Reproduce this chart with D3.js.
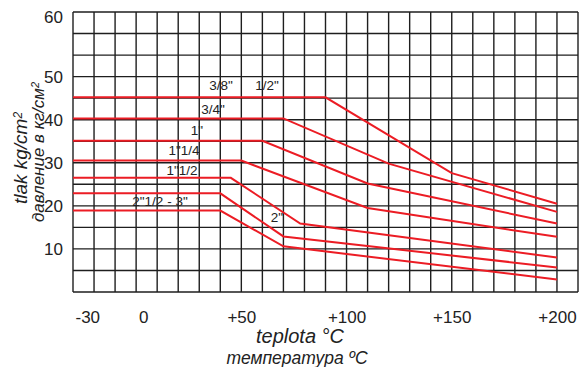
<!DOCTYPE html>
<html>
<head>
<meta charset="utf-8">
<script src="https://cdn.jsdelivr.net/npm/d3@7"></script>
<style>
  body { margin: 0; background: #fff; }
  svg { display: block; font-family: "Liberation Sans", Arial, sans-serif; }
</style>
</head>
<body>
<div id="chart"></div>
<script>
// tick labels
var xTicks = [-30, 0, 50, 100, 150, 200];
var yTicks = [10, 20, 30, 40, 50, 60];

// valve sizes (curve labels)
var sizes = ["3/8\"", "1/2\"", "3/4\"", "1\"", "1\"1/4", "1\"1/2", "2\"", "2\"1/2 - 3\""];

// temperature / pressure breakpoints of each curve, top to bottom
var tempA = [-30, 90, 150, 200], presA = [45.2, 45.2, 27.6, 20.5];
var tempB = [-30, 70, 120, 200], presB = [40.3, 40.3, 29.8, 18.6];
var tempC = [-30, 60, 110, 200], presC = [35.1, 35.1, 25.2, 15.9];
var tempD = [-30, 50, 110, 200], presD = [30.5, 30.5, 19.5, 12.8];
var tempE = [-30, 45, 78, 200],  presE = [26.5, 26.5, 15.9, 8.0];
var tempF = [-30, 40, 70, 200],  presF = [22.9, 22.9, 12.9, 5.7];
var tempG = [-30, 40, 70, 200],  presG = [18.9, 18.9, 10.6, 2.9];

var curves = [
  [tempA, presA], [tempB, presB], [tempC, presC], [tempD, presD],
  [tempE, presE], [tempF, presF], [tempG, presG]
];

// set the dimensions and margins of the graph
var margin = {top: 12, right: 5, bottom: 75, left: 73},
    width = 583 - margin.left - margin.right,
    height = 367 - margin.top - margin.bottom;

var root = d3.select("#chart")
  .append("svg")
    .attr("width", 583)
    .attr("height", 367);
var svg = root.append("g")
    .attr("transform", "translate(" + margin.left + "," + margin.top + ")");

var x = d3.scaleLinear().domain([-30, 210]).range([0, width]);
var y = d3.scaleLinear().domain([0, 65]).range([height, 0]);

// grid
svg.append("g").selectAll("line")
  .data(d3.range(-30, 211, 10))
  .enter().append("line")
    .attr("x1", function(d) { return x(d); })
    .attr("x2", function(d) { return x(d); })
    .attr("y1", 0)
    .attr("y2", height)
    .attr("stroke", "#1e1e1e")
    .attr("stroke-width", 1.4);

svg.append("g").selectAll("line")
  .data(d3.range(0, 66, 5))
  .enter().append("line")
    .attr("x1", 0)
    .attr("x2", width)
    .attr("y1", function(d) { return y(d); })
    .attr("y2", function(d) { return y(d); })
    .attr("stroke", "#1e1e1e")
    .attr("stroke-width", 1.4);

// X axis labels
var xAxis = svg.append("g")
  .attr("transform", "translate(0," + height + ")")
  .call(d3.axisBottom(x).tickValues(xTicks).tickSize(0).tickPadding(19)
    .tickFormat(function(d) { return d > 0 ? "+" + d : "" + d; }));
xAxis.select(".domain").remove();
xAxis.selectAll("text")
  .attr("font-size", 17)
  .attr("fill", "#222")
  .attr("font-family", "\"Liberation Sans\", Arial, sans-serif")
  .attr("text-anchor", function(d) { return d === -30 ? "start" : "middle"; })
  .attr("dx", function(d) { return d === -30 ? 2 : (d === 0 ? 7 : 0); });

// Y axis labels (the 60 sits at the top edge, as in the original sheet)
var yAxis = svg.append("g")
  .call(d3.axisLeft(y).tickValues(yTicks).tickSize(0).tickPadding(10));
yAxis.select(".domain").remove();
yAxis.selectAll("text")
  .attr("font-size", 17)
  .attr("fill", "#222")
  .attr("font-family", "\"Liberation Sans\", Arial, sans-serif")
  .attr("y", function(d) { return d === 60 ? y(65) - y(60) + 5 : 0; });

// curves
var line = d3.line()
  .x(function(d) { return x(d[0]); })
  .y(function(d) { return y(d[1]); });

svg.append("g").selectAll("path")
  .data(curves)
  .enter().append("path")
    .attr("d", function(c) { return line(c[0].map(function(t, i) { return [t, c[1][i]]; })); })
    .attr("fill", "none")
    .attr("stroke", "#ec1c24")
    .attr("stroke-width", 2);

// curve labels
var labelPos = [[221, 90], [267, 90], [213, 114], [197, 135], [184, 155], [182, 175], [277, 222], [160, 206]];
svg.append("g").selectAll("text")
  .data(sizes)
  .enter().append("text")
    .attr("x", function(d, i) { return labelPos[i][0] - margin.left; })
    .attr("y", function(d, i) { return labelPos[i][1] - margin.top; })
    .attr("text-anchor", "middle")
    .attr("font-size", 13.5)
    .attr("fill", "#222")
    .text(function(d) { return d; });

// axis titles
root.append("text")
  .attr("x", 300).attr("y", 343)
  .attr("text-anchor", "middle")
  .attr("font-size", 20)
  .attr("font-style", "italic")
  .attr("fill", "#222")
  .text("teplota °C");
root.append("text")
  .attr("x", 297).attr("y", 364)
  .attr("text-anchor", "middle")
  .attr("font-size", 17.5)
  .attr("font-style", "italic")
  .attr("fill", "#222")
  .text("температура ºC");

var yt1 = root.append("text")
  .attr("transform", "translate(27,158) rotate(-90)")
  .attr("text-anchor", "middle")
  .attr("font-size", 19)
  .attr("font-style", "italic")
  .attr("fill", "#222");
yt1.append("tspan").text("tlak kg/cm");
yt1.append("tspan").attr("dy", "-0.45em").attr("font-size", 12).text("2");

var yt2 = root.append("text")
  .attr("transform", "translate(44,152) rotate(-90)")
  .attr("text-anchor", "middle")
  .attr("font-size", 17)
  .attr("font-style", "italic")
  .attr("fill", "#222");
yt2.append("tspan").text("давление в кг/см");
yt2.append("tspan").attr("dy", "-0.45em").attr("font-size", 11).text("2");
</script>
</body>
</html>
